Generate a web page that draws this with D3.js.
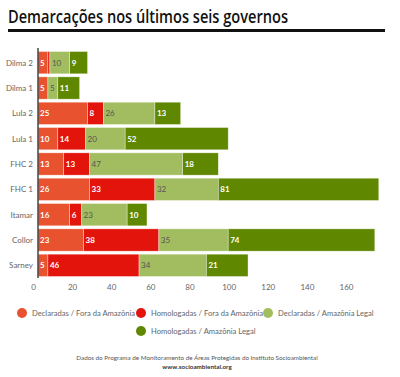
<!DOCTYPE html>
<html lang="pt">
<head>
  <meta charset="UTF-8">
  <title>Demarcações nos últimos seis governos</title>
  <style>
    body { margin: 0; background: #fff; font-family: Lato, "Open Sans", sans-serif; }
    .title { font-family: "Open Sans", sans-serif; font-weight: 600; font-size: 18px; fill: #111; }
    .ylab { font-size: 8px; fill: #666; }
    .tick text { font-family: Lato, sans-serif; font-size: 8px; fill: #666; }
    .seg-label { font-size: 8px; font-weight: bold; }
    .legend text { font-size: 7.6px; fill: #666; }
    .footer { font-size: 6.3px; fill: #555; }
  </style>
  <script src="https://d3js.org/d3.v7.min.js"></script>
</head>
<body>
  <svg id="chart" width="400" height="377"></svg>
  <script>
    // Governments, top to bottom
    const governos = ["Dilma 2", "Dilma 1", "Lula 2", "Lula 1", "FHC 2", "FHC 1", "Itamar", "Collor", "Sarney"];

    // Series values (number of indigenous lands)
    const declaradasFora   = [5, 5, 25, 10, 13, 26, 16, 23, 5];
    const homologadasFora  = [1, 0, 8, 14, 13, 33, 6, 38, 46];
    const declaradasAmaz   = [10, 5, 26, 20, 47, 32, 23, 35, 34];
    const homologadasAmaz  = [9, 11, 13, 52, 18, 81, 10, 74, 21];

    const seriesNames = [
      "Declaradas / Fora da Amazônia",
      "Homologadas / Fora da Amazônia",
      "Declaradas / Amazônia Legal",
      "Homologadas / Amazônia Legal"
    ];
    const seriesColors = ["#e8522f", "#e2140c", "#a2bd5f", "#5f8800"];
    const labelColors = ["#fff", "#fff", "#555", "#fff"];
    const xTicks = [0, 20, 40, 60, 80, 100, 120, 140, 160];

    const keys = ["df", "hf", "da", "ha"];
    const rows = governos.map((g, i) => ({
      gov: g, df: declaradasFora[i], hf: homologadasFora[i], da: declaradasAmaz[i], ha: homologadasAmaz[i]
    }));
    const stacked = d3.stack().keys(keys)(rows);

    const svg = d3.select("#chart");

    // Title + rule
    svg.append("text").attr("class", "title").attr("x", 8).attr("y", 23)
      .attr("textLength", 280).attr("lengthAdjust", "spacingAndGlyphs")
      .text("Demarcações nos últimos seis governos");
    svg.append("rect").attr("x", 8).attr("y", 29).attr("width", 377).attr("height", 3).attr("fill", "#111");

    const x = d3.scaleLinear().domain([0, 160]).range([38, 355]);
    // tick labels in the original sit slightly left of the bar scale
    const xLab = d3.scaleLinear().domain([0, 160]).range([33, 346]);
    const y = d3.scaleBand().domain(governos).range([50, 278]).paddingInner(0.12).paddingOuter(0.06);

    // Bars
    const layer = svg.append("g").selectAll("g")
      .data(stacked).join("g")
      .attr("fill", (d, i) => seriesColors[i]);

    layer.selectAll("rect")
      .data(d => d)
      .join("rect")
      .attr("x", d => x(d[0]))
      .attr("y", d => y(d.data.gov))
      .attr("width", d => Math.max(0, x(d[1]) - x(d[0])))
      .attr("height", y.bandwidth())
      .attr("stroke", "rgba(255,255,255,0.6)")
      .attr("stroke-width", 0.6);

    // Segment labels
    stacked.forEach((s, i) => {
      svg.append("g").selectAll("text")
        .data(s.filter(v => v[1] - v[0] >= 2))
        .join("text")
        .attr("class", "seg-label")
        .attr("x", d => x(d[0]) + 2)
        .attr("y", d => y(d.data.gov) + y.bandwidth() / 2 + 3)
        .attr("fill", labelColors[i])
        .style("font-weight", i === 2 ? "normal" : "bold")
        .text(d => d[1] - d[0]);
    });

    // Category labels
    svg.append("g").selectAll("text")
      .data(governos).join("text")
      .attr("class", "ylab")
      .attr("x", 33)
      .attr("y", d => y(d) + y.bandwidth() / 2 + 3)
      .attr("text-anchor", "end")
      .text(d => d);

    // Vertical axis line
    svg.append("line")
      .attr("x1", 38).attr("x2", 38)
      .attr("y1", 48).attr("y2", 278)
      .attr("stroke", "#444").attr("stroke-width", 1.5);

    // x axis labels
    const xAxis = svg.append("g")
      .attr("transform", "translate(0,280)")
      .call(d3.axisBottom(xLab).tickValues(xTicks).tickSize(0).tickPadding(4));
    xAxis.select(".domain").remove();

    // Legend
    const legendPos = [[22, 313], [141, 313], [268, 313], [141, 331]];
    const legend = svg.append("g").attr("class", "legend")
      .selectAll("g").data(seriesNames).join("g")
      .attr("transform", (d, i) => `translate(${legendPos[i][0]},${legendPos[i][1]})`);
    legend.append("circle").attr("r", 5).attr("fill", (d, i) => seriesColors[i]);
    legend.append("text").attr("x", 10).attr("y", 3).text(d => d);

    // Footer
    svg.append("text").attr("class", "footer").attr("x", 197).attr("y", 360)
      .attr("text-anchor", "middle")
      .text("Dados do Programa de Monitoramento de Áreas Protegidas do Instituto Socioambiental");
    svg.append("text").attr("class", "footer").attr("x", 197).attr("y", 369)
      .attr("text-anchor", "middle").style("font-weight", "bold").style("fill", "#333")
      .text("www.socioambiental.org");
  </script>
</body>
</html>
